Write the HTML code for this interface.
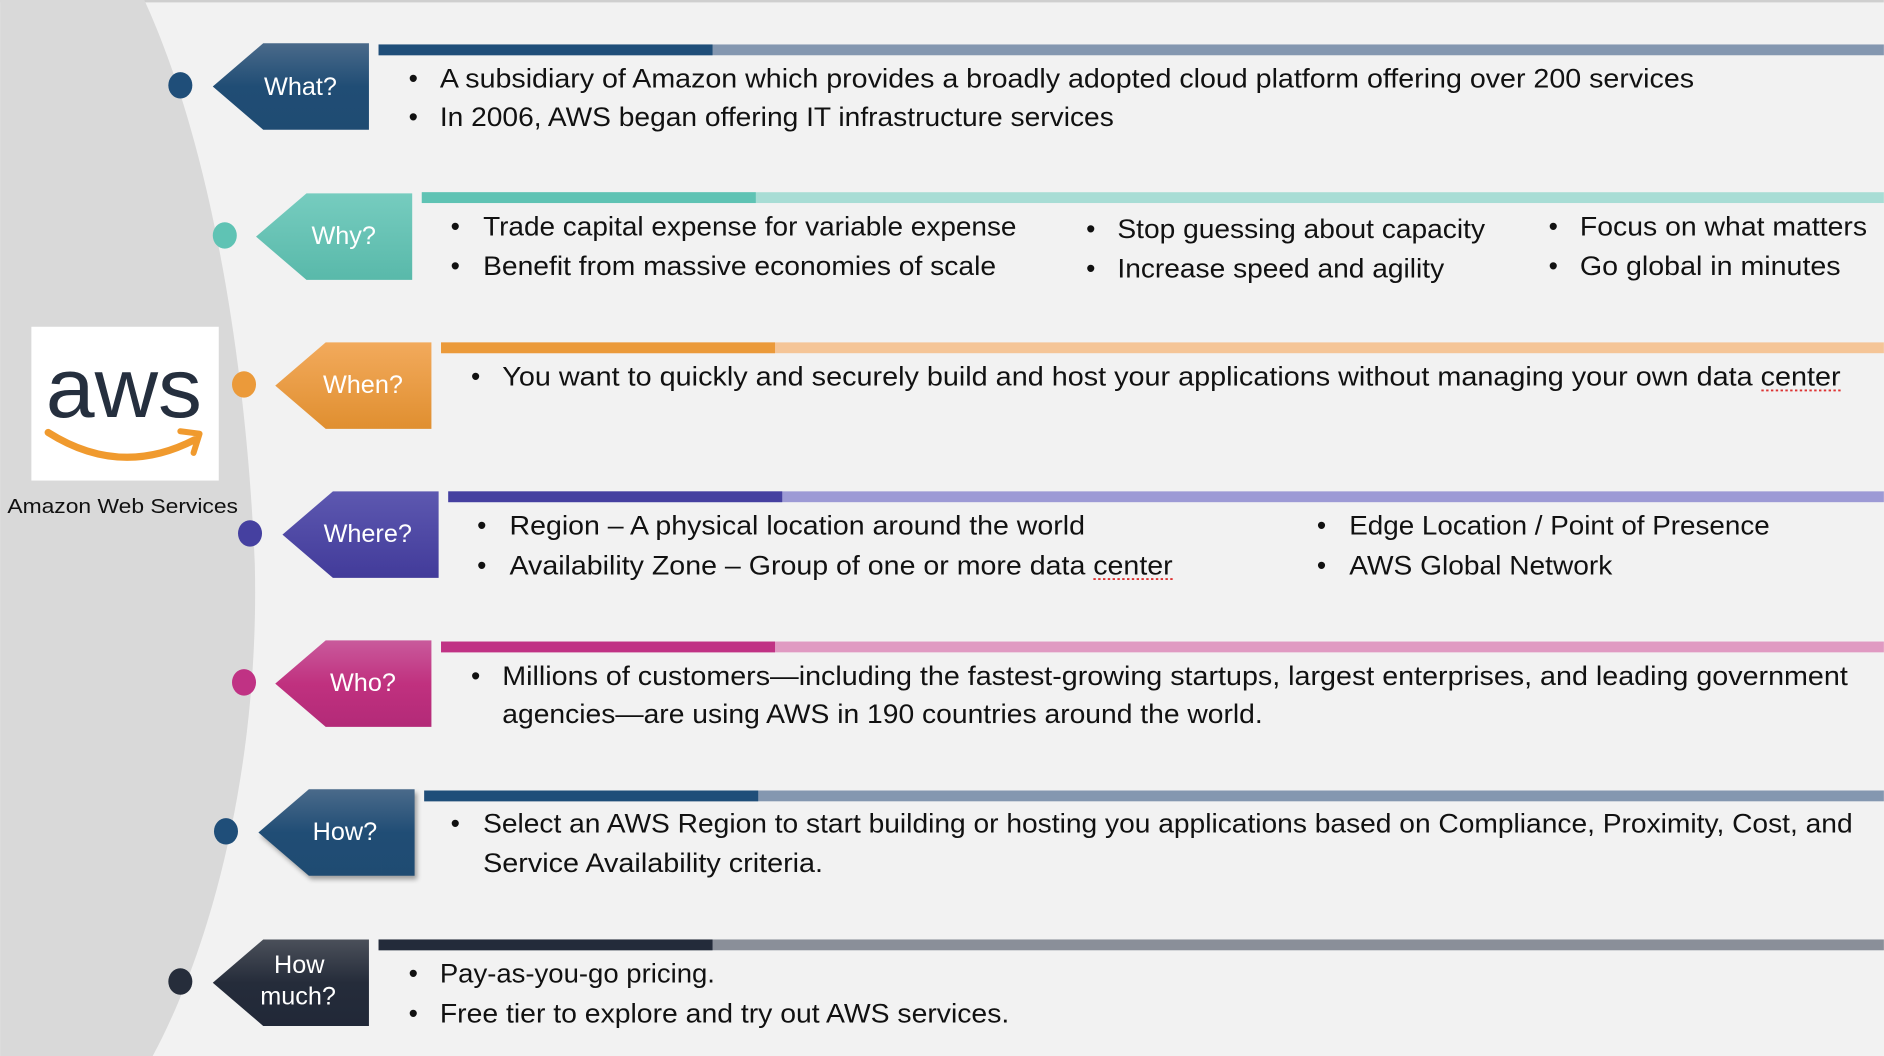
<!DOCTYPE html>
<html><head><meta charset="utf-8"><style>
html,body{margin:0;padding:0;background:#f2f2f2;}
svg{display:block;}
text{font-family:"Liberation Sans",sans-serif;}
</style></head><body>
<svg width="1884" height="1056" viewBox="0 0 1568 879" xmlns="http://www.w3.org/2000/svg">
<defs>
<linearGradient id="g1" x1="0" y1="0" x2="0" y2="1"><stop offset="0" stop-color="#4a6a8a"/><stop offset="0.5" stop-color="#204d75"/><stop offset="1" stop-color="#1f4b72"/></linearGradient>
<linearGradient id="g2" x1="0" y1="0" x2="0" y2="1"><stop offset="0" stop-color="#76ccbf"/><stop offset="1" stop-color="#59b9aa"/></linearGradient>
<linearGradient id="g3" x1="0" y1="0" x2="0" y2="1"><stop offset="0" stop-color="#f2aa5c"/><stop offset="1" stop-color="#e08f30"/></linearGradient>
<linearGradient id="g4" x1="0" y1="0" x2="0" y2="1"><stop offset="0" stop-color="#5d58b0"/><stop offset="1" stop-color="#423b9a"/></linearGradient>
<linearGradient id="g5" x1="0" y1="0" x2="0" y2="1"><stop offset="0" stop-color="#c95a9c"/><stop offset="0.5" stop-color="#c0317f"/><stop offset="1" stop-color="#b32a78"/></linearGradient>
<linearGradient id="g7" x1="0" y1="0" x2="0" y2="1"><stop offset="0" stop-color="#4b505a"/><stop offset="0.5" stop-color="#252c3a"/><stop offset="1" stop-color="#212838"/></linearGradient>
</defs>
<rect width="1568" height="879" fill="#f2f2f2"/>
<rect width="1568" height="2" fill="#cfcfcf"/>
<path d="M0,0 L120,0 C175,120 205,300 212,470 C216,640 175,790 127,879 L0,879 Z" fill="#d9d9d9"/>

<rect x="26" y="272" width="156" height="128" fill="#ffffff"/>
<text x="103" y="347" font-size="70" fill="#252f3e" text-anchor="middle" textLength="130" lengthAdjust="spacingAndGlyphs">aws</text>
<path d="M40,360 Q100,398 162,366" stroke="#f09a2e" stroke-width="6" fill="none" stroke-linecap="round"/>
<path d="M150,359 L166,361 L161,377" stroke="#f09a2e" stroke-width="5" fill="none" stroke-linecap="round" stroke-linejoin="round"/>
<text x="102" y="427" font-size="17" fill="#111" text-anchor="middle" textLength="192" lengthAdjust="spacingAndGlyphs">Amazon Web Services</text>

<g font-size="21" fill="#fff">
<ellipse cx="150" cy="71" rx="10" ry="11" fill="#1f4e79"/>
<polygon points="219,36 307,36 307,108 219,108 177,72" fill="url(#g1)"/>
<text x="250" y="79" text-anchor="middle">What?</text>
<rect x="315" y="37" width="1253" height="9" fill="#8497b0"/><rect x="315" y="37" width="278" height="9" fill="#1f4e79"/>
<ellipse cx="187" cy="196" rx="10" ry="11" fill="#5fc3b4"/>
<polygon points="255,161 343,161 343,233 255,233 213,197" fill="url(#g2)"/>
<text x="286" y="203" text-anchor="middle">Why?</text>
<rect x="351" y="160" width="1217" height="9" fill="#a8ddd5"/><rect x="351" y="160" width="278" height="9" fill="#5fc3b4"/>
<ellipse cx="203" cy="320" rx="10" ry="11" fill="#eb9a3a"/>
<polygon points="271,285 359,285 359,357 271,357 229,321" fill="url(#g3)"/>
<text x="302" y="327" text-anchor="middle">When?</text>
<rect x="367" y="285" width="1201" height="9" fill="#f5c597"/><rect x="367" y="285" width="278" height="9" fill="#eb9a3a"/>
<ellipse cx="208" cy="444" rx="10" ry="11" fill="#4540a0"/>
<polygon points="277,409 365,409 365,481 277,481 235,445" fill="url(#g4)"/>
<text x="306" y="451" text-anchor="middle">Where?</text>
<rect x="373" y="409" width="1195" height="9" fill="#9d9ad5"/><rect x="373" y="409" width="278" height="9" fill="#4540a0"/>
<ellipse cx="203" cy="568" rx="10" ry="11" fill="#c03284"/>
<polygon points="271,533 359,533 359,605 271,605 229,569" fill="url(#g5)"/>
<text x="302" y="575" text-anchor="middle">Who?</text>
<rect x="367" y="534" width="1201" height="9" fill="#e09ac2"/><rect x="367" y="534" width="278" height="9" fill="#c03284"/>
<ellipse cx="188" cy="692" rx="10" ry="11" fill="#1f4e79"/>
<polygon points="257,657 345,657 345,729 257,729 215,693" fill="url(#g1)" style="filter:drop-shadow(2px 3px 2px rgba(0,0,0,0.35))"/>
<text x="287" y="699" text-anchor="middle">How?</text>
<rect x="353" y="658" width="1215" height="9" fill="#8497b0"/><rect x="353" y="658" width="278" height="9" fill="#1f4e79"/>
<ellipse cx="150" cy="817" rx="10" ry="11" fill="#262d3b"/>
<polygon points="219,782 307,782 307,854 219,854 177,818" fill="url(#g7)"/>
<text x="249" y="810" text-anchor="middle">How</text>
<text x="248" y="836" text-anchor="middle">much?</text>
<rect x="315" y="782" width="1253" height="9" fill="#8a8f99"/><rect x="315" y="782" width="278" height="9" fill="#232b3a"/>
</g>

<g font-size="22" fill="#111">
<text x="340" y="73">•</text>
<text x="366" y="73" textLength="1044" lengthAdjust="spacingAndGlyphs">A subsidiary of Amazon which provides a broadly adopted cloud platform offering over 200 services</text>
<text x="340" y="105">•</text>
<text x="366" y="105" textLength="561" lengthAdjust="spacingAndGlyphs">In 2006, AWS began offering IT infrastructure services</text>
<text x="375" y="196">•</text>
<text x="402" y="196" textLength="444" lengthAdjust="spacingAndGlyphs">Trade capital expense for variable expense</text>
<text x="375" y="229">•</text>
<text x="402" y="229" textLength="427" lengthAdjust="spacingAndGlyphs">Benefit from massive economies of scale</text>
<text x="904" y="198">•</text>
<text x="930" y="198" textLength="306" lengthAdjust="spacingAndGlyphs">Stop guessing about capacity</text>
<text x="904" y="231">•</text>
<text x="930" y="231" textLength="272" lengthAdjust="spacingAndGlyphs">Increase speed and agility</text>
<text x="1289" y="196">•</text>
<text x="1315" y="196" textLength="239" lengthAdjust="spacingAndGlyphs">Focus on what matters</text>
<text x="1289" y="229">•</text>
<text x="1315" y="229" textLength="217" lengthAdjust="spacingAndGlyphs">Go global in minutes</text>
<text x="392" y="321">•</text>
<text x="418" y="321" textLength="1114" lengthAdjust="spacingAndGlyphs">You want to quickly and securely build and host your applications without managing your own data center</text>
<text x="397" y="445">•</text>
<text x="424" y="445" textLength="479" lengthAdjust="spacingAndGlyphs">Region – A physical location around the world</text>
<text x="397" y="478">•</text>
<text x="424" y="478" textLength="552" lengthAdjust="spacingAndGlyphs">Availability Zone – Group of one or more data center</text>
<text x="1096" y="445">•</text>
<text x="1123" y="445" textLength="350" lengthAdjust="spacingAndGlyphs">Edge Location / Point of Presence</text>
<text x="1096" y="478">•</text>
<text x="1123" y="478" textLength="219" lengthAdjust="spacingAndGlyphs">AWS Global Network</text>
<text x="392" y="570">•</text>
<text x="418" y="570" textLength="1120" lengthAdjust="spacingAndGlyphs">Millions of customers—including the fastest-growing startups, largest enterprises, and leading government</text>
<text x="418" y="602" textLength="633" lengthAdjust="spacingAndGlyphs">agencies—are using AWS in 190 countries around the world.</text>
<text x="375" y="693">•</text>
<text x="402" y="693" textLength="1140" lengthAdjust="spacingAndGlyphs">Select an AWS Region to start building or hosting you applications based on Compliance, Proximity, Cost, and</text>
<text x="402" y="726" textLength="283" lengthAdjust="spacingAndGlyphs">Service Availability criteria.</text>
<text x="340" y="818">•</text>
<text x="366" y="818" textLength="229" lengthAdjust="spacingAndGlyphs">Pay-as-you-go pricing.</text>
<text x="340" y="851">•</text>
<text x="366" y="851" textLength="474" lengthAdjust="spacingAndGlyphs">Free tier to explore and try out AWS services.</text>
</g>
<line x1="1466" y1="325" x2="1532" y2="325" stroke="#d33" stroke-width="1.5" stroke-dasharray="2,2"/>
<line x1="910" y1="482" x2="976" y2="482" stroke="#d33" stroke-width="1.5" stroke-dasharray="2,2"/>
</svg>
</body></html>
